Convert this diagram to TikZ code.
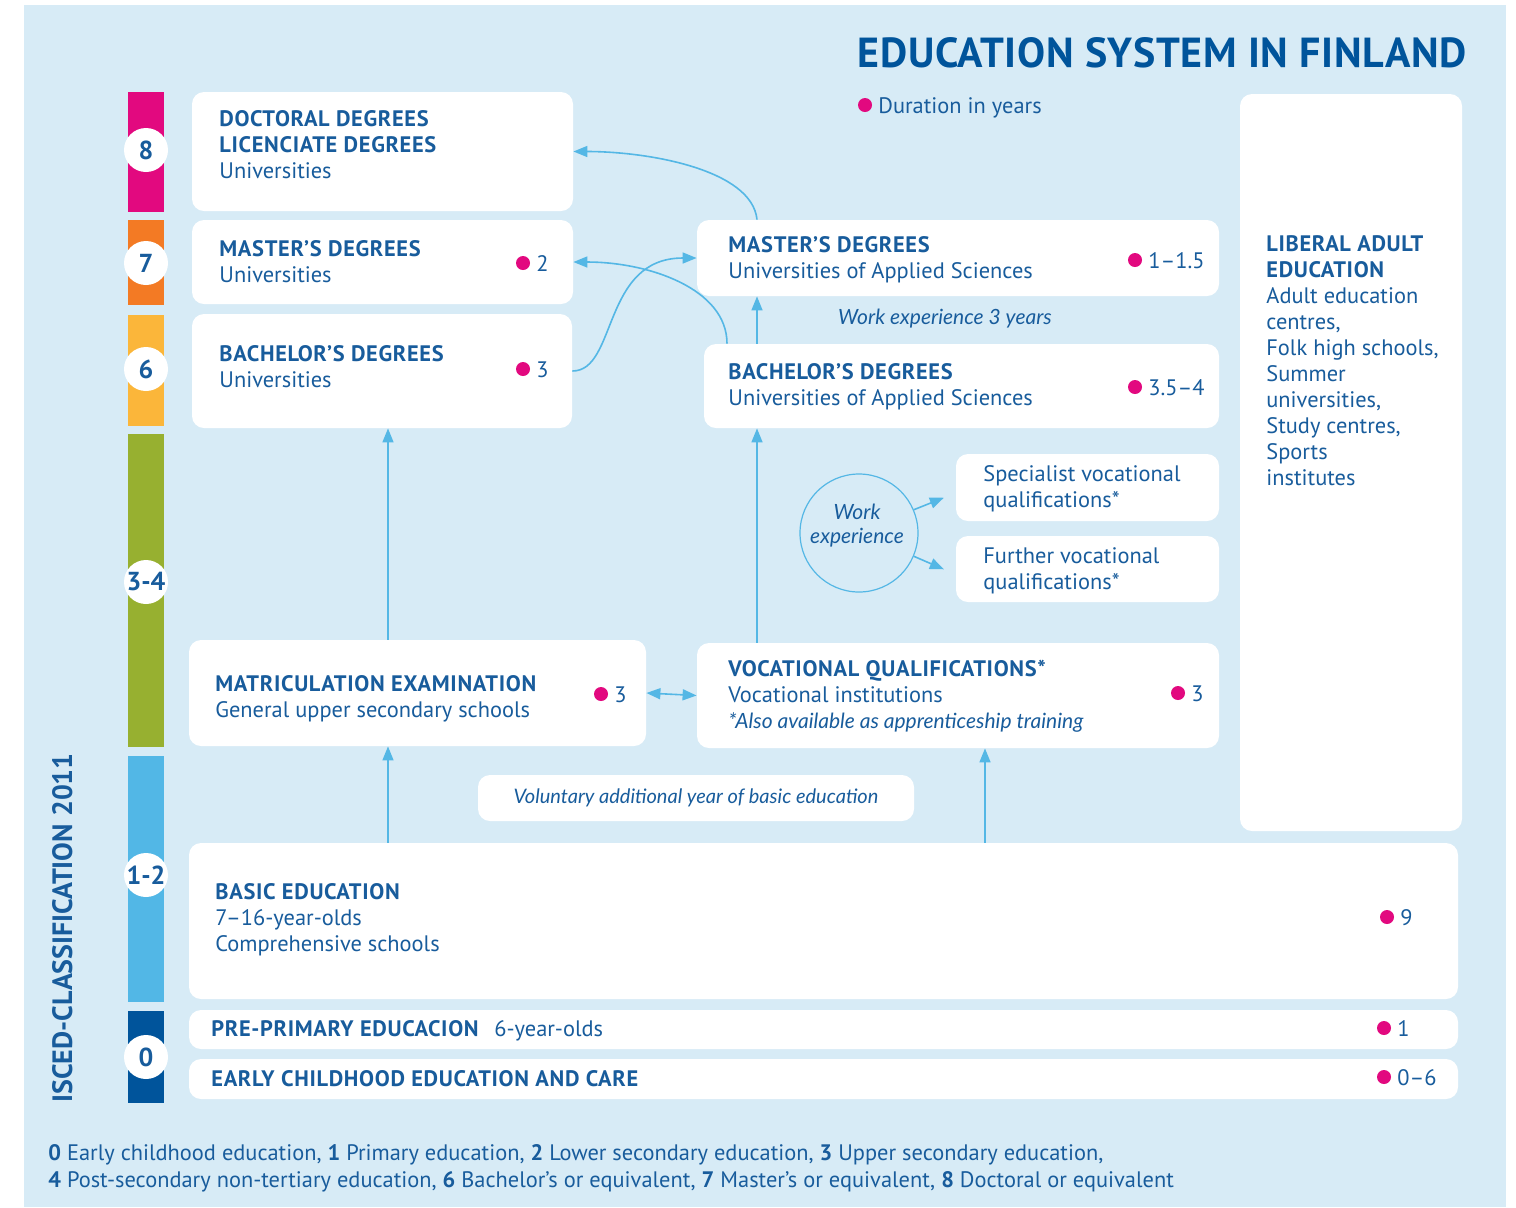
\documentclass[tikz,border=0pt]{standalone}
\usepackage{fontspec}
\setmainfont{PT Sans}
\newfontfamily\headfont{PT Sans}[LetterSpace=3]
\newfontfamily\titlefont{PT Sans}[LetterSpace=1.5]
\newfontfamily\notefont{Lato}
\usetikzlibrary{arrows.meta, fit, positioning}

\definecolor{bgblue}{RGB}{215,235,246}
\definecolor{txtblue}{RGB}{24,92,156}
\definecolor{titleblue}{RGB}{0,84,155}
\definecolor{arrowblue}{RGB}{84,183,229}
\definecolor{dotpink}{RGB}{226,9,127}
\definecolor{isced8}{RGB}{226,9,127}
\definecolor{isced7}{RGB}{243,122,36}
\definecolor{isced6}{RGB}{251,182,58}
\definecolor{isced34}{RGB}{151,176,48}
\definecolor{isced12}{RGB}{82,183,230}
\definecolor{isced0}{RGB}{0,84,155}

\newcommand{\headtext}[1]{{\headfont\bfseries #1}}
\newcommand{\duration}[4]{%
  \fill [dotpink] (#2,#3) circle (3.5pt);
  \node [school, anchor=base west] (#1) at ({#2+13},{#3+8}) {#4};
}

\tikzset{
    stage/.style = {
      fill=white, rounded corners=6pt, inner sep=0pt,
    },
    school/.style = {
      inner sep=0pt, text=txtblue, align=left,
      font=\fontsize{11.2}{13}\selectfont,
    },
    note/.style = {
      inner sep=0pt, text=txtblue, align=center,
      font=\notefont\itshape\fontsize{10.5}{12}\selectfont,
    },
    level/.style = {
      circle, fill=white, minimum size=22pt, inner sep=0pt, text=txtblue,
      font=\bfseries\fontsize{13}{13}\selectfont,
    },
    path/.style = {
      arrowblue, line width=0.8pt, arrows={-Triangle[length=7pt, width=5.5pt]},
    },
    twoway/.style = {
      path, arrows={Triangle[length=7pt, width=5.5pt]-Triangle[length=7pt, width=5.5pt]},
    },
}

\begin{document}
\begin{tikzpicture}[x=0.5pt, y=-0.5pt]
    \useasboundingbox (0,0) rectangle (1516,1207);
    \fill [bgblue] (24,5) rectangle (1506,1207);

    %% Title and legend
    \node [anchor=base east, inner sep=0pt, text=titleblue,
      font=\titlefont\bfseries\fontsize{21}{24}\selectfont] (title) at (1467,67)
      {EDUCATION SYSTEM IN FINLAND};
    \fill [dotpink] (865,105) circle (3.5pt);
    \node [school, anchor=base west] (legend) at (878,113) {Duration in years};

    %% ISCED levels on the left
    \foreach \top/\bot/\col in {92/212/isced8, 220/305/isced7, 315/426/isced6,
        434/747/isced34, 756/1002/isced12, 1011/1103/isced0}{%
      \fill [\col] (128,\top) rectangle (164,\bot);
    }
    \foreach \name/\y/\lab in {l8/150/8, l7/263/7, l6/369/6, l34/582/3-4,
        l12/875/1-2, l0/1057/0}{%
      \node [level] (\name) at (146,\y) {\lab};
    }
    \node [rotate=90, anchor=base west, inner sep=0pt, text=txtblue,
      font=\bfseries\fontsize{14}{14}\selectfont] (isced) at (72,1103)
      {ISCED-CLASSIFICATION 2011};

    %% Boxes
    \node [stage, fit={(192,92) (573,211)}] (doc) {};
    \node [stage, fit={(192,220) (573,304)}] (mu) {};
    \node [stage, fit={(192,314) (572,428)}] (bu) {};
    \node [stage, fit={(697,220) (1219,296)}] (mas) {};
    \node [stage, fit={(704,344) (1219,428)}] (bas) {};
    \node [stage, fit={(1240,94) (1462,831)}] (adult) {};
    \node [stage, fit={(956,454) (1219,521)}] (spec) {};
    \node [stage, fit={(956,536) (1219,602)}] (further) {};
    \node [stage, fit={(189,640) (646,746)}] (mat) {};
    \node [stage, fit={(697,643) (1219,748)}] (voc) {};
    \node [stage, fit={(478,775) (914,821)}] (extra) {};
    \node [stage, fit={(189,843) (1458,999)}] (basic) {};
    \node [stage, fit={(189,1010) (1458,1049)}] (pre) {};
    \node [stage, fit={(189,1059) (1458,1099)}] (early) {};

    %% Texts in the boxes
    \node [school, anchor=north west] (doc text) at (219,110)
      {\headtext{DOCTORAL DEGREES}\\\headtext{LICENCIATE DEGREES}\\Universities};
    \node [school, anchor=north west] (mu text) at (219,240)
      {\headtext{MASTER’S DEGREES}\\Universities};
    \node [school, anchor=north west] (bu text) at (219,345)
      {\headtext{BACHELOR’S DEGREES}\\Universities};
    \node [school, anchor=north west] (mas text) at (728,236)
      {\headtext{MASTER’S DEGREES}\\Universities of Applied Sciences};
    \node [school, anchor=north west] (bas text) at (728,363)
      {\headtext{BACHELOR’S DEGREES}\\Universities of Applied Sciences};
    \node [school, anchor=north west] (adult text) at (1266,235)
      {\headtext{LIBERAL ADULT}\\\headtext{EDUCATION}\\Adult education\\centres,\\
       Folk high schools,\\Summer\\universities,\\Study centres,\\Sports\\institutes};
    \node [school, anchor=north west] (spec text) at (983,465)
      {Specialist vocational\\qualifications*};
    \node [school, anchor=north west] (further text) at (983,547)
      {Further vocational\\qualifications*};
    \node [school, anchor=north west] (mat text) at (215,675)
      {\headtext{MATRICULATION EXAMINATION}\\General upper secondary schools};
    \node [school, anchor=north west] (voc text) at (728,660)
      {\headtext{VOCATIONAL QUALIFICATIONS*}\\Vocational institutions\\
       {\notefont\itshape\fontsize{10.5}{13}\selectfont *Also available as apprenticeship training}};
    \node [note, anchor=base, font=\notefont\itshape\fontsize{10}{12}\selectfont]
      (extra text) at (extra.center |- 0,803) {Voluntary additional year of basic education};
    \node [school, anchor=north west] (basic text) at (215,883)
      {\headtext{BASIC EDUCATION}\\7–16-year-olds\\Comprehensive schools};
    \node [school, anchor=base west] (pre text) at (211,1036)
      {\headtext{PRE-PRIMARY EDUCACION}};
    \node [school, anchor=base west] (pre age) at (494,1036) {6-year-olds};
    \node [school, anchor=base west] (early text) at (211,1086)
      {\headtext{EARLY CHILDHOOD EDUCATION AND CARE}};
    \node [note, anchor=base] (work years) at (945,324) {Work experience 3 years};

    %% Durations
    \duration{mu years}{523}{263}{2}
    \duration{bu years}{523}{369}{3}
    \duration{mas years}{1135}{260}{1–1.5}
    \duration{bas years}{1135}{387}{3.5–4}
    \duration{mat years}{601}{694}{3}
    \duration{voc years}{1178}{693}{3}
    \duration{basic years}{1387}{917}{9}
    \duration{pre years}{1384}{1028}{1}
    \duration{early years}{1384}{1077}{0–6}

    %% Work experience circle
    \node [circle, draw=arrowblue, line width=0.6pt, minimum size=59pt] (work)
      at (859,533) {};
    \node [note] (work text) at (857,526) {Work\\experience};
    \draw [path] (work.23) -- ++(30,-12);
    \draw [path] (work.-23) -- ++(30,13);

    %% Routes between the stages
    \coordinate (colU) at (388,0);
    \coordinate (colUAS) at (757,0);
    \coordinate (colVoc) at (985,0);
    \coordinate (colBend) at (727,0);
    \draw [path] (basic.north -| colU) -- (mat.south -| colU);
    \draw [path] (mat.north -| colU) -- (bu.south -| colU);
    \draw [path] (basic.north -| colVoc) -- (voc.south -| colVoc);
    \draw [path] (voc.north -| colUAS) -- (bas.south -| colUAS);
    \draw [path] (bas.north -| colUAS) -- (mas.south -| colUAS);
    \draw [twoway] (mat.east) -- (voc.west);
    \draw [path] (bu.east) .. controls +(45,0) and +(-95,0) .. (mas.west);
    \draw [path] (bas.north -| colBend) .. controls +(0,-55) and +(75,0) .. (mu.east);
    \draw [path] (mas.north -| colUAS) .. controls +(-5,-50) and +(75,0) .. (doc.east);

    %% Footer
    \node [school, anchor=base west] (key1) at (48,1160)
      {\headtext{0} Early childhood education, \headtext{1} Primary education,
       \headtext{2} Lower secondary education, \headtext{3} Upper secondary education,};
    \node [school, anchor=base west] (key2) at (48,1187)
      {\headtext{4} Post-secondary non-tertiary education, \headtext{6} Bachelor’s or equivalent,
       \headtext{7} Master’s or equivalent, \headtext{8} Doctoral or equivalent};
\end{tikzpicture}
\end{document}
